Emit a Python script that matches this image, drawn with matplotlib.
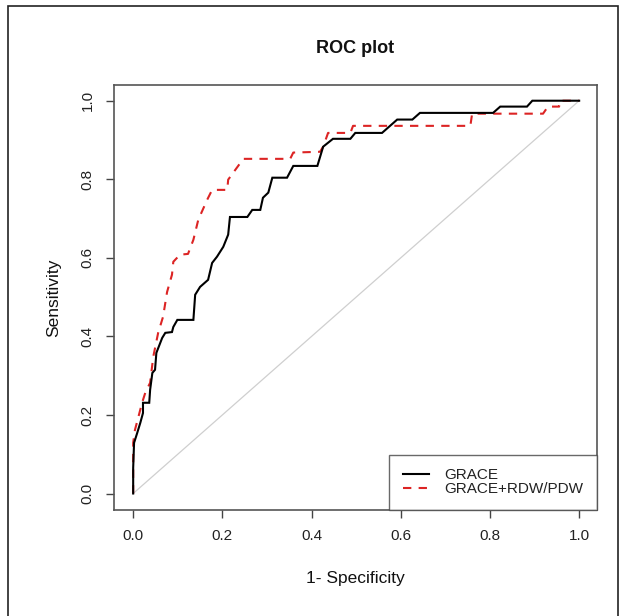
import matplotlib
matplotlib.use("Agg")
import matplotlib.pyplot as plt
from matplotlib.patches import Rectangle
from matplotlib.lines import Line2D

plt.rcParams['font.family'] = ['Liberation Sans', 'DejaVu Sans']

# GRACE ROC curve (1-specificity, sensitivity)
grace_fpr = [0.0, 0.0, 0.002, 0.009, 0.016, 0.022, 0.022, 0.036, 0.038, 0.043, 0.049,
             0.052, 0.065, 0.072, 0.087, 0.090, 0.099, 0.135, 0.139, 0.150, 0.168,
             0.177, 0.188, 0.202, 0.213, 0.217, 0.256, 0.267, 0.285, 0.291, 0.303,
             0.312, 0.345, 0.359, 0.413, 0.426, 0.448, 0.487, 0.498, 0.558, 0.592,
             0.626, 0.643, 0.807, 0.823, 0.883, 0.895, 1.0]
grace_tpr = [0.0, 0.065, 0.129, 0.154, 0.180, 0.205, 0.231, 0.231, 0.264, 0.307, 0.315,
             0.358, 0.396, 0.409, 0.411, 0.424, 0.442, 0.442, 0.506, 0.526, 0.544,
             0.587, 0.603, 0.628, 0.659, 0.704, 0.704, 0.722, 0.722, 0.753, 0.766,
             0.804, 0.804, 0.834, 0.834, 0.883, 0.903, 0.903, 0.918, 0.918, 0.952,
             0.952, 0.969, 0.969, 0.985, 0.985, 1.0, 1.0]

# GRACE+RDW/PDW ROC curve
combo_fpr = [0.0, 0.0, 0.004, 0.011, 0.020, 0.027, 0.038, 0.045, 0.056, 0.067, 0.076,
             0.087, 0.090, 0.105, 0.123, 0.135, 0.146, 0.166, 0.177, 0.211, 0.213,
             0.229, 0.247, 0.352, 0.359, 0.419, 0.426, 0.437, 0.487, 0.493, 0.756,
             0.760, 0.919, 0.930, 0.955, 0.957, 1.0]
combo_tpr = [0.0, 0.129, 0.162, 0.192, 0.231, 0.256, 0.282, 0.348, 0.409, 0.450, 0.513,
             0.557, 0.590, 0.608, 0.610, 0.646, 0.697, 0.748, 0.773, 0.773, 0.799,
             0.824, 0.852, 0.852, 0.868, 0.870, 0.883, 0.918, 0.918, 0.936, 0.936,
             0.967, 0.967, 0.985, 0.985, 1.0, 1.0]

ticks = [0.0, 0.2, 0.4, 0.6, 0.8, 1.0]
tick_labels = ["0.0", "0.2", "0.4", "0.6", "0.8", "1.0"]
series_names = ["GRACE", "GRACE+RDW/PDW"]

W, H = 624, 616
fig = plt.figure(figsize=(W / 100, H / 100), dpi=100)
fig.patch.set_facecolor('white')

# outer frame
fig.add_artist(Rectangle((8 / W, -0.01), (618 - 8) / W, (H - 6) / H + 0.01,
                         transform=fig.transFigure, fill=False,
                         edgecolor='#222222', linewidth=1.2))

left, right, top, bottom = 114, 597, 85, 510
ax = fig.add_axes([left / W, 1 - bottom / H, (right - left) / W, (bottom - top) / H])

ax.plot([0, 1], [0, 1], color='#cfcfcf', linewidth=0.9, zorder=1)
ax.plot(grace_fpr, grace_tpr, color='black', linewidth=1.5, zorder=3,
        solid_joinstyle='miter')
ax.plot(combo_fpr, combo_tpr, color='#dc2424', linewidth=1.5, zorder=2,
        linestyle=(0, (4, 3.5)))

ax.set_xlim(-0.043, 1.04)
ax.set_ylim(-0.042, 1.04)

ax.set_xticks(ticks)
ax.set_xticklabels(tick_labels)
ax.set_yticks(ticks)
ax.set_yticklabels(tick_labels, rotation=90, va='center')
ax.tick_params(axis='both', direction='out', length=6, width=1, color='#444444',
               labelsize=11, labelcolor='#222222')
ax.tick_params(axis='x', pad=8)
ax.tick_params(axis='y', pad=8)
for s in ax.spines.values():
    s.set_color('#555555')
    s.set_linewidth(1.2)

ax.set_xlabel("1- Specificity", fontsize=12.5, labelpad=20, color='#111111')
ax.set_ylabel("Sensitivity", fontsize=12.5, labelpad=14, color='#111111')
ax.set_title("ROC plot", fontsize=13, fontweight='bold', pad=23, color='#111111')

handles = [Line2D([], [], color='black', linewidth=1.5),
           Line2D([], [], color='#dc2424', linewidth=1.5, linestyle=(0, (4, 3.5)))]
leg = ax.legend(handles, series_names, loc='lower right', bbox_to_anchor=(1.0, 0.0),
                frameon=True, fancybox=False, fontsize=11, borderaxespad=0,
                handlelength=1.7, handletextpad=1.0, labelspacing=0.0,
                borderpad=0.9)
leg.get_frame().set_edgecolor('#444444')
leg.get_frame().set_linewidth(1.0)
for t in leg.get_texts():
    t.set_color('#222222')

fig.savefig("out.png", dpi=100, facecolor='white')
